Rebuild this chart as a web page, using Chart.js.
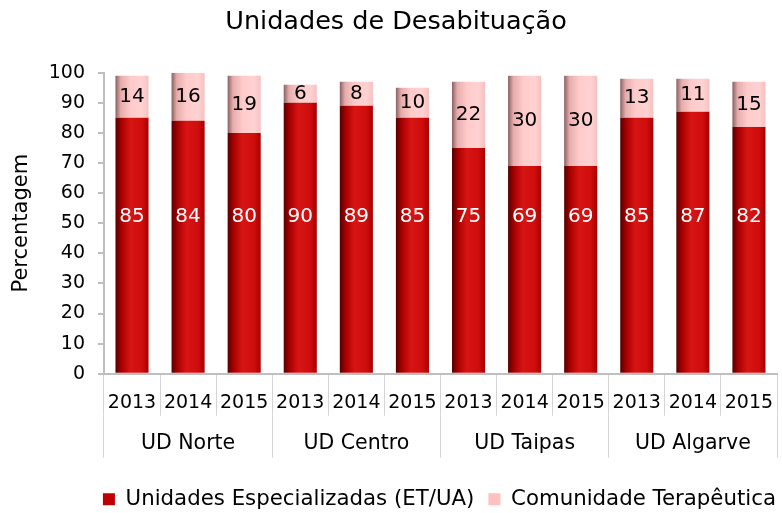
<!DOCTYPE html>
<html>
<head>
<meta charset="utf-8">
<script src="https://cdn.jsdelivr.net/npm/chart.js@4.4.0/dist/chart.umd.min.js"></script>
<style>
  html, body { margin: 0; padding: 0; background: #ffffff; }
</style>
</head>
<body>
<canvas id="c" width="782" height="513"></canvas>
<script>
// ---- data ----
const groups = ['UD Norte', 'UD Centro', 'UD Taipas', 'UD Algarve'];
const years = ['2013', '2014', '2015'];
const especializadas = [85, 84, 80, 90, 89, 85, 75, 69, 69, 85, 87, 82];
const comunidade = [14, 16, 19, 6, 8, 10, 22, 30, 30, 13, 11, 15];
const yTicks = [0, 10, 20, 30, 40, 50, 60, 70, 80, 90, 100];
const seriesNames = ['Unidades Especializadas (ET/UA)', 'Comunidade Terapêutica'];

const categoryLabels = [];
groups.forEach(() => years.forEach(y => categoryLabels.push(y)));

// ---- styles ----
const FONT = "'DejaVu Sans', sans-serif";
const BAR_PCT = 0.59;
const RED_LABEL_AT = 52;
const RED = '#c00000';
const PINK = '#ffc0c0';

function barGradient(stops, solid) {
  return function (ctx) {
    if (ctx.dataIndex === undefined) return solid;
    const chart = ctx.chart;
    const xs = chart.scales.x;
    if (!chart.chartArea || !xs) return solid;
    const cx = xs.getPixelForValue(ctx.dataIndex);
    const w = (xs.width / categoryLabels.length) * BAR_PCT;
    const g = chart.ctx.createLinearGradient(cx - w / 2, 0, cx + w / 2, 0);
    stops.forEach(s => g.addColorStop(s[0], s[1]));
    return g;
  };
}

const redStops = [[0, '#560000'], [0.18, '#a80000'], [0.45, '#d81414'], [0.8, '#cf0d0d'], [1, '#aa0000']];
const pinkStops = [[0, '#8a6060'], [0.16, '#e6acac'], [0.45, '#ffcaca'], [0.8, '#ffd2d2'], [1, '#f6c0c0']];

const dataLabels = {
  id: 'dataLabels',
  afterDatasetsDraw(chart) {
    const ctx = chart.ctx;
    const ys = chart.scales.y;
    ctx.save();
    ctx.font = '20px ' + FONT;
    ctx.textAlign = 'center';
    ctx.textBaseline = 'middle';
    chart.data.datasets.forEach((ds, di) => {
      const meta = chart.getDatasetMeta(di);
      meta.data.forEach((el, i) => {
        const v = ds.data[i];
        let y;
        if (di === 0) {
          y = ys.getPixelForValue(RED_LABEL_AT);
          ctx.fillStyle = '#ffffff';
        } else {
          y = ys.getPixelForValue(especializadas[i] + v / 2);
          ctx.fillStyle = '#000000';
        }
        ctx.fillText(String(v), el.x, y);
      });
    });
    ctx.restore();
  }
};

// multi-level category labels drawn inside the tick-mark rows
const categoryAxisLabels = {
  id: 'categoryAxisLabels',
  afterDraw(chart) {
    const ctx = chart.ctx;
    const xs = chart.scales.x;
    const x2 = chart.scales.x2;
    ctx.save();
    ctx.fillStyle = '#000000';
    ctx.textAlign = 'center';
    ctx.textBaseline = 'middle';
    ctx.font = '19px ' + FONT;
    categoryLabels.forEach((lab, i) => {
      ctx.fillText(lab, xs.getPixelForValue(i), xs.top + 29);
    });
    ctx.font = '20.5px ' + FONT;
    groups.forEach((g, i) => {
      ctx.fillText(g, x2.getPixelForValue(i), x2.top + 28);
    });
    ctx.restore();
  }
};

new Chart(document.getElementById('c'), {
  type: 'bar',
  data: {
    labels: categoryLabels,
    datasets: [
      {
        label: seriesNames[0],
        data: especializadas,
        backgroundColor: barGradient(redStops, RED),
        borderWidth: 0,
        categoryPercentage: 1,
        barPercentage: BAR_PCT,
        xAxisID: 'x'
      },
      {
        label: seriesNames[1],
        data: comunidade,
        backgroundColor: barGradient(pinkStops, PINK),
        borderWidth: 0,
        categoryPercentage: 1,
        barPercentage: BAR_PCT,
        xAxisID: 'x'
      }
    ]
  },
  options: {
    responsive: false,
    animation: false,
    devicePixelRatio: 1,
    layout: { padding: { left: 2, right: -8, top: 0, bottom: -7 } },
    plugins: {
      title: {
        display: true,
        text: 'Unidades de Desabituação',
        color: '#000000',
        font: { family: FONT, size: 25.5, weight: 'normal' },
        padding: { top: 6.7, bottom: 35.4 }
      },
      legend: {
        position: 'bottom',
        align: 'end',
        labels: {
          color: '#000000',
          font: { family: FONT, size: 21.3 },
          boxWidth: 12,
          boxHeight: 12,
          padding: 14,
          generateLabels() {
            return [
              { text: seriesNames[0], fillStyle: RED, strokeStyle: RED, lineWidth: 0, datasetIndex: 0 },
              { text: seriesNames[1], fillStyle: PINK, strokeStyle: PINK, lineWidth: 0, datasetIndex: 1 }
            ];
          }
        }
      },
      tooltip: { enabled: false }
    },
    scales: {
      x: {
        type: 'category',
        stacked: true,
        offset: true,
        position: 'bottom',
        grid: { offset: true, drawOnChartArea: false, tickLength: 42, color: '#d4d4d4', lineWidth: 1 },
        border: { color: '#bfbfbf', width: 2 },
        ticks: { display: false, autoSkip: false }
      },
      x2: {
        type: 'category',
        labels: groups,
        offset: true,
        position: 'bottom',
        grid: { offset: true, drawOnChartArea: false, tickLength: 42, color: '#d4d4d4', lineWidth: 1 },
        border: { display: false },
        ticks: { display: false, autoSkip: false },
        title: { display: true, text: ' ', color: 'rgba(0,0,0,0)', font: { size: 10 }, padding: { top: 0, bottom: 5 } }
      },
      y: {
        stacked: true,
        min: 0,
        max: 100,
        afterBuildTicks(scale) { scale.ticks = yTicks.map(v => ({ value: v })); },
        grid: { drawOnChartArea: false, tickLength: 6, color: '#bfbfbf', lineWidth: 2 },
        border: { color: '#bfbfbf', width: 2 },
        ticks: { color: '#000000', font: { family: FONT, size: 19 }, padding: 13 },
        title: {
          display: true,
          text: 'Percentagem',
          color: '#000000',
          font: { family: FONT, size: 21 },
          padding: { top: 7, bottom: 1.5 }
        }
      },
      rightGap: {
        type: 'linear',
        position: 'right',
        display: true,
        grid: { display: false },
        border: { display: false },
        ticks: { display: false },
        afterFit(scale) { scale.width = 13; }
      }
    }
  },
  plugins: [dataLabels, categoryAxisLabels]
});
</script>
</body>
</html>
